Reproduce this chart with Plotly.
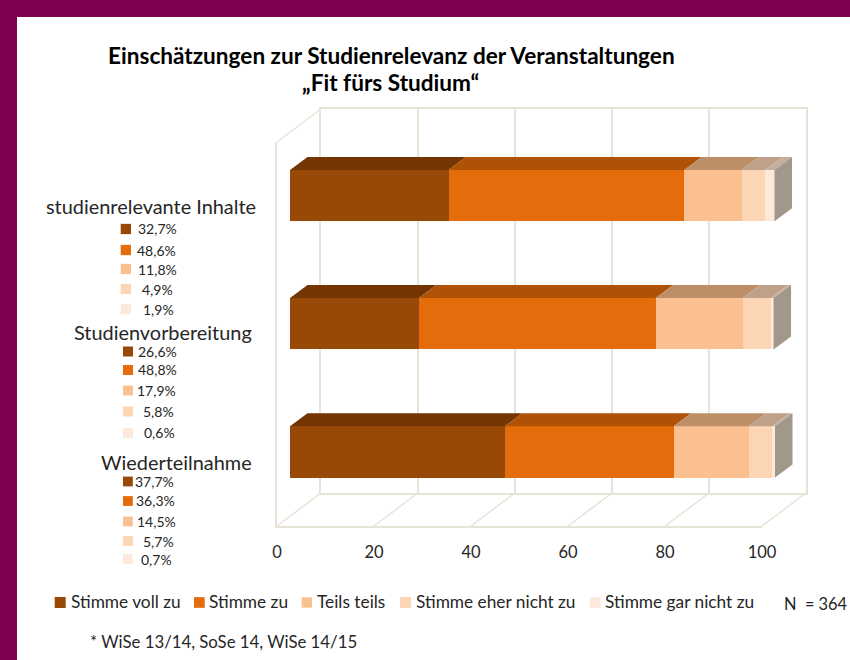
import plotly.graph_objects as go

# ---------- data ----------
categories = ["Wiederteilnahme", "Studienvorbereitung", "studienrelevante Inhalte"]
series_names = ["Stimme voll zu", "Stimme zu", "Teils teils", "Stimme eher nicht zu", "Stimme gar nicht zu"]
voll_zu = [44.3, 26.6, 32.7]
zu = [34.8, 48.8, 48.6]
teils = [15.5, 17.9, 11.8]
eher_nicht = [4.8, 5.8, 4.9]
gar_nicht = [0.6, 0.6, 1.9]
series_values = [voll_zu, zu, teils, eher_nicht, gar_nicht]
labels_inhalte = ["32,7%", "48,6%", "11,8%", "4,9%", "1,9%"]
labels_vorbereitung = ["26,6%", "48,8%", "17,9%", "5,8%", "0,6%"]
labels_wieder = ["37,7%", "36,3%", "14,5%", "5,7%", "0,7%"]
x_ticks = [0, 20, 40, 60, 80, 100]

# ---------- styles ----------
W, H = 850, 660
FONT = "Lato"
TXT = "#262626"
FRAME = "#E7E4D7"
face = ["#984807", "#E46C0A", "#FAC090", "#FCD5B5", "#FDE9D9"]
top = ["#753503", "#AF5205", "#BD8F69", "#BFA088", "#C4AE9C"]
side = "#A2978B"

def px(x):
    return x / W

def py(y):
    return 1 - y / H

UNIT = 4.85                 # pixels per axis unit
FRONT_X, BACK_X, BAR_X = 277, 321, 290
FRONT_Y, BACK_Y = 526, 493
WALL_TOP_BACK, WALL_TOP_FRONT = 109, 142
BAR_Y_TOP, BAR_Y_BOTTOM = 131.5, 516
BAR_WIDTH = 0.4
DX_UNITS = 17.5 / UNIT
DY_UNITS = 13 / ((BAR_Y_BOTTOM - BAR_Y_TOP) / 3)
BAR_RANGE_MAX = 110

fig = go.Figure()

# invisible carriers so that the wall and front axes are drawn by the library
for xa, ya in (("x", "y"), ("x2", "y2")):
    fig.add_trace(go.Scatter(x=x_ticks, y=[0] * len(x_ticks), mode="markers", marker=dict(opacity=0),
                             xaxis=xa, yaxis=ya, showlegend=False, hoverinfo="skip"))

ypos = list(range(len(categories)))
for i, (name, vals) in enumerate(zip(series_names, series_values)):
    fig.add_trace(go.Bar(y=ypos, x=vals, name=name, orientation="h", width=BAR_WIDTH,
                         marker=dict(color=face[i], line=dict(width=0)),
                         xaxis="x3", yaxis="y3", showlegend=False,
                         text=categories, hoverinfo="x+name+text", textposition="none"))

# depth faces computed from the data
for c in ypos:
    start = 0
    for i, vals in enumerate(series_values):
        end = start + vals[c]
        yt = c + BAR_WIDTH / 2
        fig.add_trace(go.Scatter(
            x=[start, end, end + DX_UNITS, start + DX_UNITS, start],
            y=[yt, yt, yt + DY_UNITS, yt + DY_UNITS, yt],
            mode="lines", fill="toself", fillcolor=top[i], line=dict(width=0),
            xaxis="x3", yaxis="y3", showlegend=False, hoverinfo="skip"))
        start = end
    yb = c - BAR_WIDTH / 2
    fig.add_trace(go.Scatter(
        x=[start, start + DX_UNITS, start + DX_UNITS, start, start],
        y=[yb, yb + DY_UNITS, yb + BAR_WIDTH + DY_UNITS, yb + BAR_WIDTH, yb],
        mode="lines", fill="toself", fillcolor=side, line=dict(width=0),
        xaxis="x3", yaxis="y3", showlegend=False, hoverinfo="skip"))

# ---------- frame lines ----------
shapes = [dict(type="rect", xref="paper", yref="paper", x0=px(17), x1=1, y0=0, y1=py(17),
               fillcolor="white", line=dict(width=0), layer="below")]
for t in x_ticks:
    shapes.append(dict(type="line", xref="paper", yref="paper",
                       x0=px(FRONT_X + t * UNIT), y0=py(FRONT_Y),
                       x1=px(BACK_X + t * UNIT), y1=py(BACK_Y),
                       line=dict(color=FRAME, width=1.5), layer="below"))
shapes.append(dict(type="line", xref="paper", yref="paper",
                   x0=px(FRONT_X), y0=py(WALL_TOP_FRONT), x1=px(BACK_X), y1=py(WALL_TOP_BACK),
                   line=dict(color=FRAME, width=1.5), layer="below"))

# ---------- texts ----------
annotations = []

def text(x, y, s, size=14, anchor="left", color=TXT, bold=False):
    annotations.append(dict(x=px(x), y=py(y), xref="paper", yref="paper", text=f"<b>{s}</b>" if bold else s,
                            showarrow=False, xanchor=anchor, yanchor="middle", align=anchor,
                            font=dict(family=FONT, size=size, color=color),
                            borderpad=0, borderwidth=0))

def swatch(x0, x1, yc, color):
    h = (x1 - x0) / 2
    shapes.append(dict(type="rect", xref="paper", yref="paper", x0=px(x0), x1=px(x1),
                       y0=py(yc + h), y1=py(yc - h), fillcolor=color, line=dict(width=0)))

text(391, 55, "Einschätzungen zur Studienrelevanz der Veranstaltungen", 22.6, "center", "#000000", True)
text(390, 83, "„Fit fürs Studium“", 22.6, "center", "#000000", True)

text(46, 206, categories[2], 19.9)
text(74, 332, categories[1], 19.9)
text(101, 462, categories[0], 19.9)

groups = [
    (labels_inhalte, [229, 250, 269, 289, 309], [137.5, 137, 138, 141.5, 143], 120.7, 131),
    (labels_vorbereitung, [351.5, 370, 390.5, 411.5, 433], [137.5, 137.5, 137, 143, 143.5], 123, 133),
    (labels_wieder, [481.5, 501, 521.5, 541, 559], [135, 135.5, 136.5, 142.5, 141], 123, 132.8),
]
for labels, ys, xs, s0, s1 in groups:
    for i, (lab, yc, xt) in enumerate(zip(labels, ys, xs)):
        swatch(s0, s1, yc, face[i])
        text(xt, yc, lab, 14)

legend_sw = [(54.7, 65.7), (194, 204.7), (301.7, 312), (400, 411), (590, 600.5)]
legend_tx = [70.7, 209.3, 317, 415.7, 605]
for i, name in enumerate(series_names):
    swatch(legend_sw[i][0], legend_sw[i][1], 602.5, face[i])
    text(legend_tx[i], 601.5, name, 17.3)
text(784, 603, "N  = 364", 16.4)
text(90, 641, "* WiSe 13/14, SoSe 14, WiSe 14/15", 16.8)

# ---------- layout ----------
fig.update_layout(
    width=W, height=H, margin=dict(l=0, r=0, t=0, b=0, autoexpand=False),
    paper_bgcolor="#7F0050", plot_bgcolor="rgba(0,0,0,0)",
    barmode="stack", showlegend=False, shapes=shapes, annotations=annotations,
    font=dict(family=FONT, color=TXT),
    # back wall with gridlines
    xaxis=dict(domain=[px(BACK_X), px(BACK_X + 100 * UNIT)], range=[0, 100], anchor="y",
               tickvals=x_ticks, showticklabels=False, ticks="", showgrid=True, gridcolor=FRAME, gridwidth=1.5,
               showline=True, linecolor=FRAME, linewidth=1.5, mirror=True, zeroline=False),
    yaxis=dict(domain=[py(BACK_Y), py(WALL_TOP_BACK)], range=[0, 1], anchor="x",
               showticklabels=False, ticks="", showgrid=False, showline=True, linecolor=FRAME,
               linewidth=1.5, mirror=True, zeroline=False),
    # front plane with tick labels
    xaxis2=dict(domain=[px(FRONT_X), px(FRONT_X + 100 * UNIT)], range=[0, 100], anchor="y2",
                tickvals=x_ticks, ticks="outside", ticklen=10, tickcolor="rgba(0,0,0,0)",
                tickfont=dict(family=FONT, size=16.5, color=TXT), showgrid=False, showline=True,
                linecolor=FRAME, linewidth=1.5, zeroline=False),
    yaxis2=dict(domain=[py(FRONT_Y), py(WALL_TOP_FRONT)], range=[0, 1], anchor="x2",
                showticklabels=False, ticks="", showgrid=False, showline=True, linecolor=FRAME,
                linewidth=1.5, zeroline=False),
    # bar plane
    xaxis3=dict(domain=[px(BAR_X), px(BAR_X + BAR_RANGE_MAX * UNIT)], range=[0, BAR_RANGE_MAX], anchor="y3",
                visible=False),
    yaxis3=dict(domain=[py(BAR_Y_BOTTOM), py(BAR_Y_TOP)], range=[-0.5, 2.5], anchor="x3", visible=False),
)

fig.write_html("out.html", config={"displayModeBar": False},
               post_script="document.body.style.margin='0';")
